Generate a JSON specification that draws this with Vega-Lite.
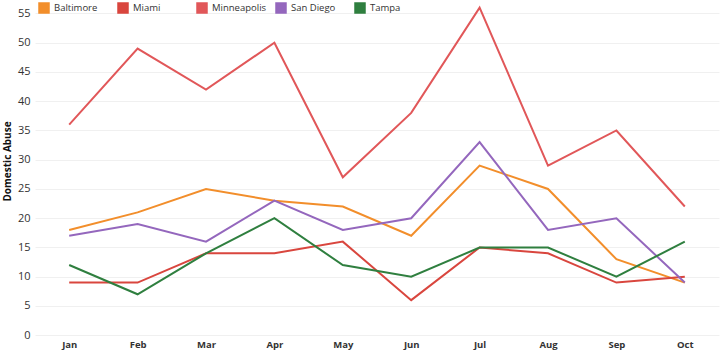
{
  "$schema": "https://vega.github.io/schema/vega-lite/v6.json",
  "width": 684,
  "height": 337,
  "autosize": {"type": "none"},
  "padding": {"left": 35, "top": 0, "right": 1, "bottom": 13},
  "background": "white",
  "config": {
    "view": {"stroke": null},
    "font": "Open Sans"
  },
  "data": {
    "values": [
      {"month": "Jan", "city": "Baltimore", "value": 18},
      {"month": "Feb", "city": "Baltimore", "value": 21},
      {"month": "Mar", "city": "Baltimore", "value": 25},
      {"month": "Apr", "city": "Baltimore", "value": 23},
      {"month": "May", "city": "Baltimore", "value": 22},
      {"month": "Jun", "city": "Baltimore", "value": 17},
      {"month": "Jul", "city": "Baltimore", "value": 29},
      {"month": "Aug", "city": "Baltimore", "value": 25},
      {"month": "Sep", "city": "Baltimore", "value": 13},
      {"month": "Oct", "city": "Baltimore", "value": 9},
      {"month": "Jan", "city": "Miami", "value": 9},
      {"month": "Feb", "city": "Miami", "value": 9},
      {"month": "Mar", "city": "Miami", "value": 14},
      {"month": "Apr", "city": "Miami", "value": 14},
      {"month": "May", "city": "Miami", "value": 16},
      {"month": "Jun", "city": "Miami", "value": 6},
      {"month": "Jul", "city": "Miami", "value": 15},
      {"month": "Aug", "city": "Miami", "value": 14},
      {"month": "Sep", "city": "Miami", "value": 9},
      {"month": "Oct", "city": "Miami", "value": 10},
      {"month": "Jan", "city": "Minneapolis", "value": 36},
      {"month": "Feb", "city": "Minneapolis", "value": 49},
      {"month": "Mar", "city": "Minneapolis", "value": 42},
      {"month": "Apr", "city": "Minneapolis", "value": 50},
      {"month": "May", "city": "Minneapolis", "value": 27},
      {"month": "Jun", "city": "Minneapolis", "value": 38},
      {"month": "Jul", "city": "Minneapolis", "value": 56},
      {"month": "Aug", "city": "Minneapolis", "value": 29},
      {"month": "Sep", "city": "Minneapolis", "value": 35},
      {"month": "Oct", "city": "Minneapolis", "value": 22},
      {"month": "Jan", "city": "San Diego", "value": 17},
      {"month": "Feb", "city": "San Diego", "value": 19},
      {"month": "Mar", "city": "San Diego", "value": 16},
      {"month": "Apr", "city": "San Diego", "value": 23},
      {"month": "May", "city": "San Diego", "value": 18},
      {"month": "Jun", "city": "San Diego", "value": 20},
      {"month": "Jul", "city": "San Diego", "value": 33},
      {"month": "Aug", "city": "San Diego", "value": 18},
      {"month": "Sep", "city": "San Diego", "value": 20},
      {"month": "Oct", "city": "San Diego", "value": 9},
      {"month": "Jan", "city": "Tampa", "value": 12},
      {"month": "Feb", "city": "Tampa", "value": 7},
      {"month": "Mar", "city": "Tampa", "value": 14},
      {"month": "Apr", "city": "Tampa", "value": 20},
      {"month": "May", "city": "Tampa", "value": 12},
      {"month": "Jun", "city": "Tampa", "value": 10},
      {"month": "Jul", "city": "Tampa", "value": 15},
      {"month": "Aug", "city": "Tampa", "value": 15},
      {"month": "Sep", "city": "Tampa", "value": 10},
      {"month": "Oct", "city": "Tampa", "value": 16}
    ]
  },
  "mark": {"type": "line", "strokeWidth": 2},
  "encoding": {
    "x": {
      "field": "month",
      "type": "ordinal",
      "sort": ["Jan", "Feb", "Mar", "Apr", "May", "Jun", "Jul", "Aug", "Sep", "Oct"],
      "scale": {"type": "point", "padding": 0.5},
      "axis": {
        "title": null,
        "labelAngle": 0,
        "ticks": false,
        "domain": false,
        "grid": false,
        "labelFontSize": 9.5,
        "labelFontWeight": "bold",
        "labelColor": "#333333",
        "labelPadding": 2
      }
    },
    "y": {
      "field": "value",
      "type": "quantitative",
      "scale": {"domain": [-0.3, 57.3], "nice": false, "zero": false},
      "axis": {
        "title": "Domestic Abuse",
        "values": [0, 5, 10, 15, 20, 25, 30, 35, 40, 45, 50, 55],
        "ticks": false,
        "domain": false,
        "gridColor": "#f0f0f0",
        "gridWidth": 1,
        "labelFontSize": 11,
        "labelColor": "#333333",
        "labelPadding": 5,
        "titleFontSize": 10,
        "titleFontWeight": "bold",
        "titleColor": "#111111",
        "titleX": -28,
        "titleY": 161,
        "titleAlign": "center",
        "titleBaseline": "middle",
        "titleAngle": -90
      }
    },
    "color": {
      "field": "city",
      "type": "nominal",
      "scale": {
        "domain": ["Baltimore", "Miami", "Minneapolis", "San Diego", "Tampa"],
        "range": ["#F28E2B", "#D9463E", "#E15759", "#9467BD", "#2F7F3F"]
      },
      "legend": {
        "title": null,
        "orient": "none",
        "legendX": 3,
        "legendY": 2,
        "direction": "horizontal",
        "columns": 5,
        "gridAlign": "all",
        "columnPadding": 6,
        "symbolType": "square",
        "symbolSize": 100,
        "symbolOffset": 0,
        "labelOffset": 4,
        "labelFontSize": 9.5,
        "labelColor": "#333333",
        "labelLimit": 200,
        "encode": {
          "symbols": {
            "update": {
              "fill": {"scale": "color", "field": "value"},
              "stroke": {"value": "transparent"},
              "opacity": {"value": 1}
            }
          }
        }
      }
    }
  }
}
